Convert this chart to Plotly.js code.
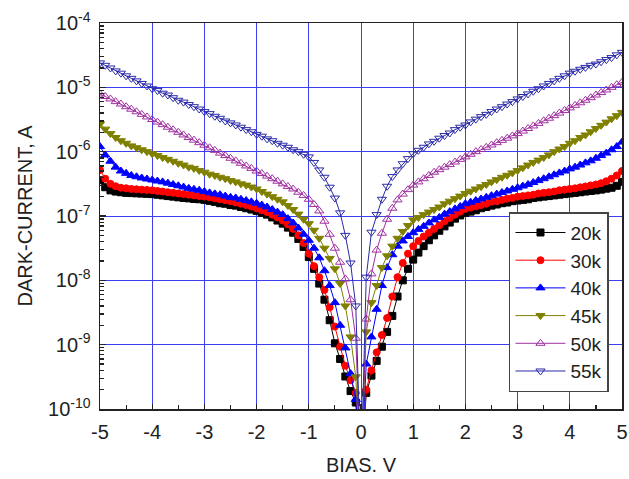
<!DOCTYPE html>
<html><head><meta charset="utf-8">
<script src="https://cdn.plot.ly/plotly-3.0.1.min.js"></script>
<style>html,body{margin:0;padding:0;background:#fff}#chart{width:629px;height:479px}</style>
</head><body><div id="chart"></div>
<script>
const bias = [-5,-4.9,-4.8,-4.7,-4.6,-4.5,-4.4,-4.3,-4.2,-4.1,-4,-3.9,-3.8,-3.7,-3.6,-3.5,-3.4,-3.3,-3.2,-3.1,-3,-2.9,-2.8,-2.7,-2.6,-2.5,-2.4,-2.3,-2.2,-2.1,-2,-1.9,-1.8,-1.7,-1.6,-1.5,-1.4,-1.3,-1.2,-1.1,-1,-0.9,-0.8,-0.7,-0.6,-0.5,-0.4,-0.3,-0.2,-0.1,0,0.1,0.2,0.3,0.4,0.5,0.6,0.7,0.8,0.9,1,1.1,1.2,1.3,1.4,1.5,1.6,1.7,1.8,1.9,2,2.1,2.2,2.3,2.4,2.5,2.6,2.7,2.8,2.9,3,3.1,3.2,3.3,3.4,3.5,3.6,3.7,3.8,3.9,4,4.1,4.2,4.3,4.4,4.5,4.6,4.7,4.8,4.9,5];

const seriesNames = ['20k','30k','40k','45k','50k','55k'];

const current20k = [3.6e-7,2.8e-7,2.5e-7,2.4e-7,2.34e-7,2.29e-7,2.27e-7,2.25e-7,2.23e-7,2.21e-7,
2.19e-7,2.14e-7,2.09e-7,2.04e-7,2.0e-7,1.95e-7,1.91e-7,1.88e-7,1.84e-7,1.82e-7,
1.78e-7,1.72e-7,1.66e-7,1.58e-7,1.55e-7,1.48e-7,1.45e-7,1.38e-7,1.32e-7,1.26e-7,
1.2e-7,1.12e-7,1.05e-7,9.5e-8,8.5e-8,7.6e-8,6.6e-8,5.5e-8,4.4e-8,3.3e-8,
2.3e-8,1.51e-8,8.9e-9,5.0e-9,2.4e-9,1.05e-9,6.0e-10,3.2e-10,1.9e-10,1.26e-10,
1e-11,
1.78e-10,3.3e-10,5.6e-10,9.3e-10,1.58e-9,2.8e-9,5.6e-9,1.0e-8,1.51e-8,2.1e-8,
2.7e-8,3.4e-8,4.2e-8,5.0e-8,5.9e-8,6.9e-8,7.9e-8,9.1e-8,1.02e-7,1.12e-7,
1.17e-7,1.23e-7,1.32e-7,1.38e-7,1.45e-7,1.51e-7,1.58e-7,1.62e-7,1.7e-7,1.74e-7,
1.78e-7,1.82e-7,1.91e-7,1.95e-7,2.0e-7,2.04e-7,2.09e-7,2.14e-7,2.19e-7,2.24e-7,
2.29e-7,2.34e-7,2.4e-7,2.45e-7,2.5e-7,2.57e-7,2.66e-7,2.75e-7,2.95e-7,3.4e-7];

const current30k = [5.2e-7,3.8e-7,3.16e-7,2.9e-7,2.75e-7,2.7e-7,2.63e-7,2.6e-7,2.57e-7,2.54e-7,
2.51e-7,2.45e-7,2.4e-7,2.34e-7,2.29e-7,2.24e-7,2.19e-7,2.14e-7,2.09e-7,2.04e-7,
2.0e-7,1.95e-7,1.88e-7,1.82e-7,1.76e-7,1.7e-7,1.62e-7,1.55e-7,1.48e-7,1.4e-7,
1.32e-7,1.23e-7,1.15e-7,1.05e-7,9.5e-8,8.5e-8,7.4e-8,6.3e-8,5.0e-8,3.8e-8,
2.6e-8,1.66e-8,1.12e-8,7.1e-9,3.8e-9,1.91e-9,9.3e-10,4.7e-10,2.8e-10,1.78e-10,
1e-11,
2.0e-10,4.0e-10,7.6e-10,1.41e-9,2.6e-9,5.6e-9,1.12e-8,1.86e-8,2.6e-8,3.4e-8,
4.1e-8,4.8e-8,5.5e-8,6.3e-8,7.2e-8,8.3e-8,9.3e-8,1.05e-7,1.17e-7,1.29e-7,
1.35e-7,1.41e-7,1.48e-7,1.55e-7,1.66e-7,1.7e-7,1.78e-7,1.86e-7,1.91e-7,2.0e-7,
2.04e-7,2.09e-7,2.14e-7,2.24e-7,2.29e-7,2.34e-7,2.4e-7,2.51e-7,2.57e-7,2.63e-7,
2.69e-7,2.79e-7,2.88e-7,2.99e-7,3.09e-7,3.24e-7,3.47e-7,3.8e-7,4.27e-7,5.0e-7];

const current40k = [1.2e-6,8.9e-7,7.1e-7,5.75e-7,5.0e-7,4.6e-7,4.27e-7,4.07e-7,3.9e-7,3.76e-7,
3.63e-7,3.5e-7,3.39e-7,3.24e-7,3.09e-7,2.95e-7,2.82e-7,2.69e-7,2.6e-7,2.51e-7,
2.4e-7,2.29e-7,2.21e-7,2.14e-7,2.04e-7,1.95e-7,1.91e-7,1.82e-7,1.74e-7,1.66e-7,
1.58e-7,1.48e-7,1.38e-7,1.26e-7,1.15e-7,1.05e-7,9.1e-8,7.8e-8,6.5e-8,5.2e-8,
4.2e-8,3.16e-8,2.24e-8,1.41e-8,8.3e-9,4.5e-9,2.0e-9,8.9e-10,3.55e-10,1.41e-10,
1e-11,
5.0e-10,1.32e-9,3.55e-9,8.3e-9,1.58e-8,2.5e-8,3.4e-8,4.1e-8,4.8e-8,5.5e-8,
6.2e-8,6.9e-8,7.8e-8,8.7e-8,9.5e-8,1.07e-7,1.17e-7,1.29e-7,1.41e-7,1.55e-7,
1.64e-7,1.74e-7,1.84e-7,1.95e-7,2.07e-7,2.19e-7,2.32e-7,2.45e-7,2.6e-7,2.75e-7,
2.92e-7,3.09e-7,3.31e-7,3.55e-7,3.8e-7,4.07e-7,4.37e-7,4.68e-7,5.0e-7,5.4e-7,
5.75e-7,6.2e-7,6.7e-7,7.2e-7,7.9e-7,8.7e-7,9.5e-7,1.07e-6,1.2e-6,1.41e-6];

const current45k = [2.7e-6,2.24e-6,1.91e-6,1.66e-6,1.48e-6,1.35e-6,1.23e-6,1.15e-6,1.07e-6,1.0e-6,
9.3e-7,8.7e-7,8.1e-7,7.6e-7,7.1e-7,6.6e-7,6.2e-7,5.75e-7,5.5e-7,5.1e-7,
4.8e-7,4.47e-7,4.27e-7,4.0e-7,3.8e-7,3.55e-7,3.39e-7,3.16e-7,3.02e-7,2.82e-7,
2.63e-7,2.4e-7,2.19e-7,2.0e-7,1.82e-7,1.66e-7,1.45e-7,1.26e-7,1.07e-7,8.9e-8,
7.6e-8,6.0e-8,4.5e-8,3.16e-8,2.19e-8,1.51e-8,8.9e-9,4.0e-9,1.32e-9,3.16e-10,
1e-11,
1.58e-9,4.5e-9,8.3e-9,1.58e-8,2.4e-8,3.4e-8,4.5e-8,5.75e-8,7.1e-8,8.7e-8,
9.5e-8,1.05e-7,1.15e-7,1.26e-7,1.38e-7,1.55e-7,1.7e-7,1.86e-7,2.04e-7,2.24e-7,
2.43e-7,2.63e-7,2.85e-7,3.09e-7,3.39e-7,3.67e-7,4.0e-7,4.3e-7,4.68e-7,5.1e-7,
5.6e-7,6.2e-7,6.8e-7,7.4e-7,8.1e-7,8.9e-7,1.0e-6,1.1e-6,1.2e-6,1.35e-6,
1.48e-6,1.66e-6,1.82e-6,2.04e-6,2.29e-6,2.57e-6,2.88e-6,3.24e-6,3.63e-6,4.07e-6];

const current50k = [7.9e-6,7.2e-6,6.6e-6,6.0e-6,5.5e-6,5.0e-6,4.57e-6,4.17e-6,3.8e-6,3.47e-6,
3.16e-6,2.88e-6,2.63e-6,2.4e-6,2.19e-6,2.0e-6,1.82e-6,1.66e-6,1.51e-6,1.38e-6,
1.26e-6,1.15e-6,1.05e-6,9.5e-7,8.7e-7,7.9e-7,7.2e-7,6.6e-7,6.0e-7,5.5e-7,
5.0e-7,4.57e-7,4.17e-7,3.8e-7,3.47e-7,3.16e-7,2.88e-7,2.63e-7,2.34e-7,2.09e-7,
1.82e-7,1.51e-7,1.2e-7,8.3e-8,5.2e-8,3.16e-8,1.91e-8,1.05e-8,5.0e-9,1.26e-9,
1e-11,
2.5e-9,1.26e-8,2.95e-8,5.4e-8,8.9e-8,1.32e-7,1.78e-7,2.19e-7,2.57e-7,3.02e-7,
3.39e-7,3.8e-7,4.27e-7,4.79e-7,5.25e-7,5.75e-7,6.3e-7,6.9e-7,7.6e-7,8.3e-7,
9.1e-7,1.0e-6,1.08e-6,1.17e-6,1.27e-6,1.38e-6,1.5e-6,1.62e-6,1.76e-6,1.91e-6,
2.09e-6,2.29e-6,2.51e-6,2.75e-6,3.02e-6,3.31e-6,3.63e-6,3.98e-6,4.37e-6,4.79e-6,
5.25e-6,5.75e-6,6.3e-6,6.9e-6,7.6e-6,8.3e-6,9.1e-6,1.0e-5,1.1e-5,1.2e-5];

const current55k = [2.4e-5,2.2e-5,2.0e-5,1.8e-5,1.66e-5,1.51e-5,1.38e-5,1.26e-5,1.15e-5,1.05e-5,
9.5e-6,8.9e-6,8.1e-6,7.6e-6,6.9e-6,6.3e-6,5.9e-6,5.4e-6,5.0e-6,4.6e-6,
4.2e-6,3.9e-6,3.55e-6,3.3e-6,3.0e-6,2.8e-6,2.6e-6,2.4e-6,2.2e-6,2.04e-6,
1.86e-6,1.74e-6,1.58e-6,1.48e-6,1.35e-6,1.26e-6,1.17e-6,1.07e-6,1.0e-6,9.1e-7,
8.3e-7,6.8e-7,5.2e-7,4.0e-7,2.8e-7,1.9e-7,1.12e-7,5.0e-8,1.86e-8,4.0e-9,
1e-11,
1.12e-8,5.6e-8,1.05e-7,1.82e-7,2.9e-7,4.1e-7,5.2e-7,6.5e-7,7.8e-7,9.3e-7,
1.05e-6,1.17e-6,1.32e-6,1.45e-6,1.62e-6,1.78e-6,1.95e-6,2.2e-6,2.4e-6,2.6e-6,
2.9e-6,3.2e-6,3.5e-6,3.8e-6,4.2e-6,4.6e-6,5.0e-6,5.5e-6,6.0e-6,6.6e-6,
7.2e-6,7.9e-6,8.7e-6,9.5e-6,1.05e-5,1.15e-5,1.26e-5,1.38e-5,1.51e-5,1.66e-5,
1.78e-5,1.91e-5,2.04e-5,2.2e-5,2.3e-5,2.5e-5,2.7e-5,2.9e-5,3.2e-5,3.5e-5];

const yTickVals = [1e-10,1e-9,1e-8,1e-7,1e-6,1e-5,1e-4];
const yTickText = ['10<sup>-10</sup>','10<sup>-9</sup>','10<sup>-8</sup>','10<sup>-7</sup>','10<sup>-6</sup>','10<sup>-5</sup>','10<sup>-4</sup>'];
const xTickVals = [-5,-4,-3,-2,-1,0,1,2,3,4,5];
const xTickText = ['-5','-4','-3','-2','-1','0','1','2','3','4','5'];

const allSeries = [current20k,current30k,current40k,current45k,current50k,current55k];
const colors = ['#000000','#ff0000','#0000ff','#808000','#a030a0','#2a2aa8'];
const symbols = ['square','circle','triangle-up','triangle-down','triangle-up-open','triangle-down-open'];
const sizes = [7,7,8,8,8,8];

const traces = allSeries.map((ys,i)=>({
  x: bias, y: ys, name: seriesNames[i], type:'scatter', mode:'lines+markers',
  line:{color:colors[i], width:1},
  marker:{symbol:symbols[i], size:sizes[i], color:colors[i], line:{color:colors[i], width:1}},
  cliponaxis:true
}));

const FONT = 'Liberation Sans, Arial, sans-serif';
const layout = {
  width:629, height:479,
  margin:{l:100, r:7, t:23, b:70},
  paper_bgcolor:'#fff', plot_bgcolor:'#fff',
  font:{family:FONT, color:'#222', size:20},
  showlegend:true,
  legend:{x:0.7835, y:0.51, xanchor:'left', yanchor:'top',
    bgcolor:'#fff', bordercolor:'#444', borderwidth:1.5,
    font:{family:FONT, size:19, color:'#222'}, itemwidth:50, tracegroupgap:0},
  xaxis:{range:[-5,5], tickmode:'array', tickvals:xTickVals, ticktext:xTickText,
    ticks:'inside', ticklen:5, tickcolor:'#222', tickwidth:1.2,
    minor:{dtick:0.5, ticks:'inside', ticklen:4, tickcolor:'#222', showgrid:false},
    showline:true, linecolor:'#222', linewidth:1.5, mirror:true,
    showgrid:true, gridcolor:'rgb(60,60,240)', gridwidth:1, zeroline:false,
    tickfont:{size:20, family:FONT, color:'#222'}, ticklabelstandoff:4,
    title:{text:'BIAS. V', font:{size:20, family:FONT, color:'#222'}, standoff:16}},
  yaxis:{type:'log', range:[-10,-4], tickmode:'array', tickvals:yTickVals, ticktext:yTickText,
    ticks:'inside', ticklen:6, tickcolor:'#222', tickwidth:1.2,
    minor:{dtick:'D1', ticks:'inside', ticklen:4, tickcolor:'#222', showgrid:false},
    showline:true, linecolor:'#222', linewidth:1.5, mirror:true,
    showgrid:true, gridcolor:'rgb(60,60,240)', gridwidth:1, zeroline:false,
    tickfont:{size:20, family:FONT, color:'#222'}, ticklabelstandoff:4,
    title:{text:'DARK-CURRENT, A', font:{size:20, family:FONT, color:'#222'}, standoff:10}}
};

Plotly.newPlot('chart', traces, layout, {displayModeBar:false, staticPlot:true});
</script>
</body></html>
